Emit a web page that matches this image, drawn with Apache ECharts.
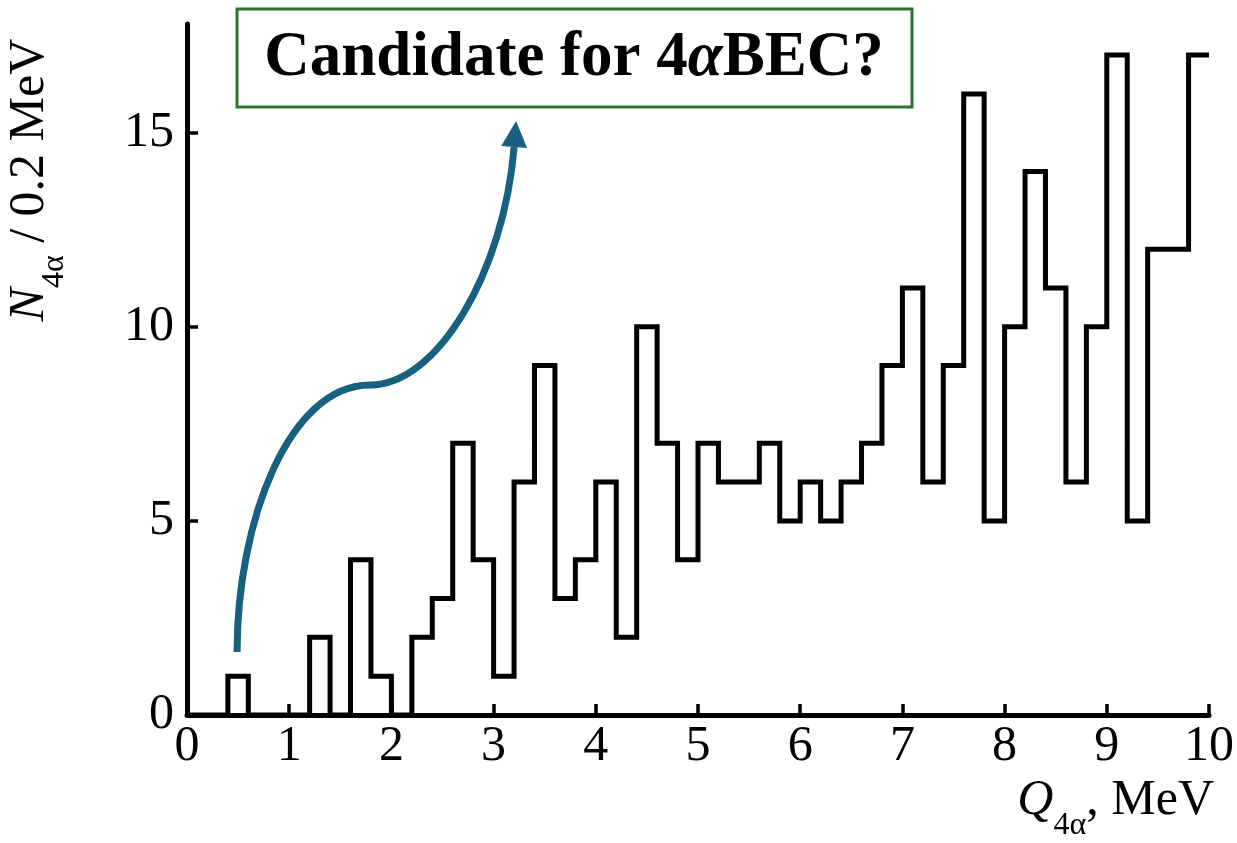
<!DOCTYPE html>
<html><head><meta charset="utf-8">
<script src="https://cdn.jsdelivr.net/npm/echarts@6/dist/echarts.min.js"></script>
<style>html,body{margin:0;padding:0;background:#fff}#c{width:1237px;height:843px}</style>
</head><body><div id="c"></div>
<script>
// ---- data ----
const binStart = 0;
const binWidth = 0.2; // MeV
const counts = [0,0,1,0,0,0,2,0,4,1,
                0,2,3,7,4,1,6,9,3,4,
                6,2,10,7,4,7,6,6,7,5,
                6,5,6,7,9,11,6,9,16,5,
                10,14,11,6,10,17,5,12,12,17];
const xTicks = [0,1,2,3,4,5,6,7,8,9,10];
const yTicks = [0,5,10,15];
const xRange = [0, 10];
const yRange = [0, 17.8];
const titleParts = ['Candidate for 4', 'α', 'BEC?'];
// annotation arrow (data coordinates): start, ctrl, ctrl, mid, ctrl, ctrl, end, tip
const arrowPts = [[0.49,1.62],[0.49,5.0],[1.0,8.5],[1.79,8.5],[2.45,8.5],[3.1,11.4],[3.2,14.6]];
const arrowTip = [3.22,15.3];

const FONT = 'Liberation Serif';
const stepData = [];
counts.forEach((c, i) => {
  const x0 = binStart + i * binWidth;
  stepData.push([+x0.toFixed(4), c], [+(x0 + binWidth).toFixed(4), c]);
});

const chart = echarts.init(document.getElementById('c'), null, {renderer: 'canvas'});
const axisCommon = {
  type: 'value',
  axisLine: {show: true, onZero: false, lineStyle: {color: '#000', width: 5}},
  axisTick: {show: true, inside: true, length: 11, lineStyle: {color: '#000', width: 3.5}},
  splitLine: {show: false},
};
chart.setOption({
  animation: false,
  backgroundColor: '#fff',
  grid: {left: 187, right: 27, top: 24, bottom: 128, containLabel: false},
  xAxis: Object.assign({}, axisCommon, {
    min: xRange[0], max: xRange[1], interval: 1,
    axisTick: Object.assign({}, axisCommon.axisTick, {customValues: xTicks.slice(1)}),
    axisLabel: {customValues: xTicks, color: '#000', fontFamily: FONT, fontSize: 50, margin: 7}
  }),
  yAxis: Object.assign({}, axisCommon, {
    min: yRange[0], max: yRange[1], interval: 5,
    axisTick: Object.assign({}, axisCommon.axisTick, {customValues: yTicks.slice(1)}),
    axisLabel: {customValues: yTicks, color: '#000', fontFamily: FONT, fontSize: 50, margin: 13}
  }),
  series: [{
    type: 'line', data: stepData, symbol: 'none', clip: false,
    lineStyle: {color: '#000', width: 5, join: 'miter'}
  }]
});

const P = p => chart.convertToPixel({gridIndex: 0}, p);
const a = arrowPts.map(P);
const tip = P(arrowTip);
const end = a[6];
let dx = tip[0] - end[0], dy = tip[1] - end[1];
const L = Math.hypot(dx, dy); dx /= L; dy /= L;
const hw = 13;
const base = [tip[0] - dx * 26, tip[1] - dy * 26];
const arrowColor = '#17607f';
const sub = {fontFamily: FONT, fontSize: 32, verticalAlign: 'bottom', lineHeight: 66};
chart.setOption({
  graphic: [
    {type: 'bezierCurve', silent: true,
     shape: {x1: a[0][0], y1: a[0][1], cpx1: a[1][0], cpy1: a[1][1], cpx2: a[2][0], cpy2: a[2][1], x2: a[3][0], y2: a[3][1]},
     style: {stroke: arrowColor, lineWidth: 7, fill: null}},
    {type: 'bezierCurve', silent: true,
     shape: {x1: a[3][0], y1: a[3][1], cpx1: a[4][0], cpy1: a[4][1], cpx2: a[5][0], cpy2: a[5][1], x2: base[0], y2: base[1]},
     style: {stroke: arrowColor, lineWidth: 7, fill: null}},
    {type: 'polygon', silent: true,
     shape: {points: [tip, [base[0] - dy * hw, base[1] + dx * hw], [base[0] + dy * hw, base[1] - dx * hw]]},
     style: {fill: arrowColor}},
    {type: 'rect', silent: true,
     shape: {x: 237, y: 9, width: 675, height: 98},
     style: {fill: '#fff', stroke: '#2b7530', lineWidth: 3}},
    {type: 'text', silent: true, x: 574, y: 59,
     style: {
       text: '{b|' + titleParts[0] + '}{g|' + titleParts[1] + '}{b|' + titleParts[2] + '}',
       align: 'center', verticalAlign: 'middle',
       rich: {
         b: {fontFamily: FONT, fontWeight: 'bold', fontSize: 63, fill: '#000'},
         g: {fontFamily: FONT, fontWeight: 'bold', fontStyle: 'italic', fontSize: 63, fill: '#000'}
       }
     }},
    {type: 'text', silent: true, x: 38, y: 180, rotation: Math.PI / 2,
     style: {
       text: '{i|N}{s|4α}{r| / 0.2 MeV}',
       align: 'center', verticalAlign: 'middle',
       rich: {
         i: {fontFamily: FONT, fontStyle: 'italic', fontSize: 50, verticalAlign: 'top', fill: '#000'},
         s: Object.assign({fill: '#000'}, sub),
         r: {fontFamily: FONT, fontSize: 50, verticalAlign: 'top', fill: '#000'}
       }
     }},
    {type: 'text', silent: true, x: 1214, y: 776,
     style: {
       text: '{i|Q}{s|4α}{r|, MeV}',
       align: 'right', verticalAlign: 'top',
       rich: {
         i: {fontFamily: FONT, fontStyle: 'italic', fontSize: 50, verticalAlign: 'top', fill: '#000'},
         s: Object.assign({fill: '#000'}, sub),
         r: {fontFamily: FONT, fontSize: 50, verticalAlign: 'top', fill: '#000'}
       }
     }}
  ]
});
</script></body></html>
